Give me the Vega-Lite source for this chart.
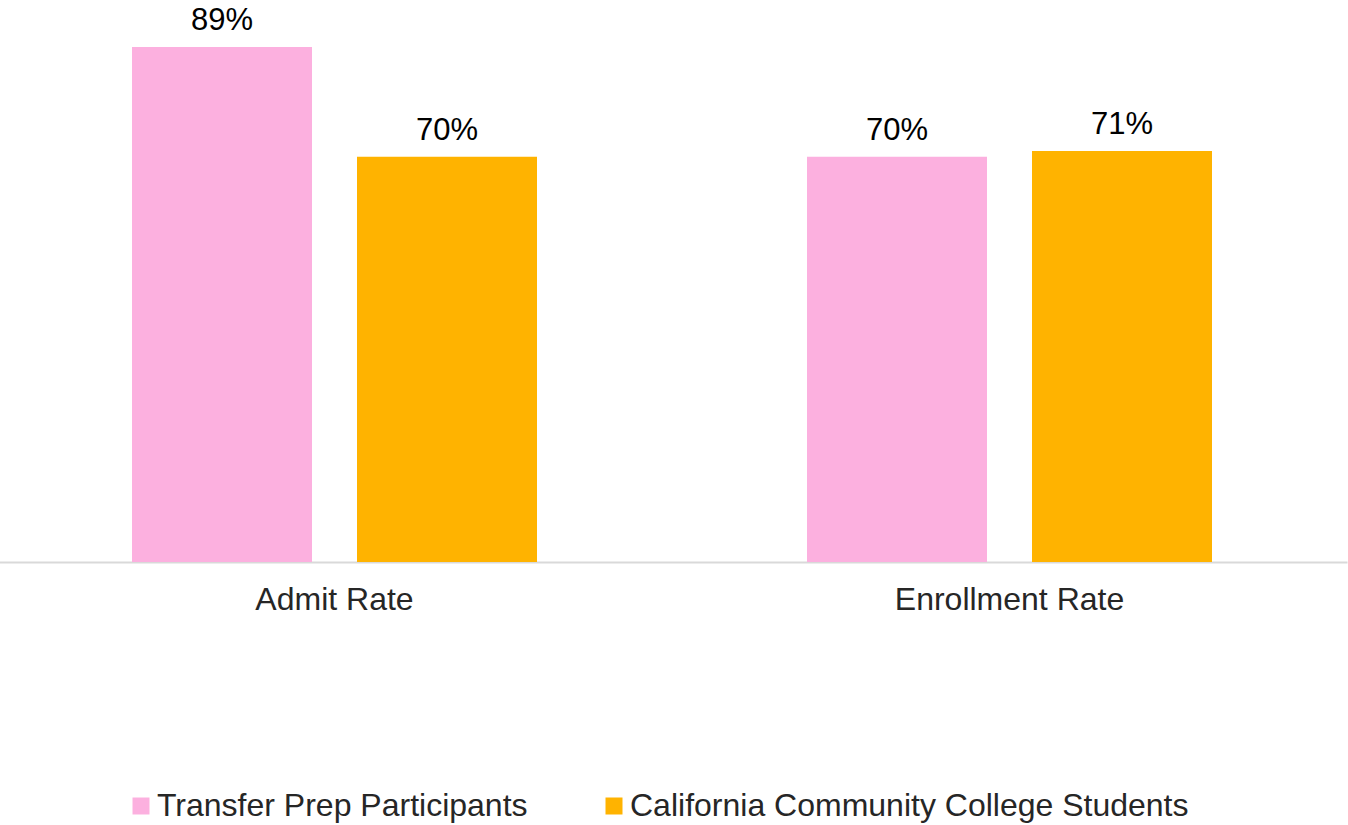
{
  "$schema": "https://vega.github.io/schema/vega-lite/v6.json",
  "width": 1348,
  "height": 562,
  "autosize": {"type": "none"},
  "padding": {"top": 0, "left": 0, "right": 0, "bottom": 263},
  "background": "white",
  "config": {"view": {"stroke": null}, "font": "Liberation Sans"},
  "data": {
    "values": [
      {"metric": "Admit Rate", "group": "Transfer Prep Participants", "value": 0.89, "label": "89%"},
      {"metric": "Admit Rate", "group": "California Community College Students", "value": 0.70, "label": "70%"},
      {"metric": "Enrollment Rate", "group": "Transfer Prep Participants", "value": 0.70, "label": "70%"},
      {"metric": "Enrollment Rate", "group": "California Community College Students", "value": 0.71, "label": "71%"}
    ]
  },
  "encoding": {
    "x": {
      "field": "metric", "type": "nominal", "sort": ["Admit Rate", "Enrollment Rate"],
      "scale": {"paddingInner": 0, "paddingOuter": 0, "range": [-3, 1347]},
      "axis": {"title": null, "labelAngle": 0, "labelFontSize": 32, "labelColor": "#262626", "labelFont": "Liberation Sans", "ticks": false, "domainColor": "#d9d9d9", "domainWidth": 2, "labelPadding": 22, "labelLimit": 1000, "grid": false}
    },
    "xOffset": {
      "field": "group", "type": "nominal", "sort": ["Transfer Prep Participants", "California Community College Students"],
      "scale": {"paddingInner": 0.2, "paddingOuter": 0.6}
    },
    "y": {
      "field": "value", "type": "quantitative",
      "scale": {"domain": [0, 0.971], "nice": false, "zero": true},
      "axis": null
    }
  },
  "layer": [
    {
      "mark": {"type": "bar"},
      "encoding": {
        "color": {
          "field": "group", "type": "nominal",
          "sort": ["Transfer Prep Participants", "California Community College Students"],
          "scale": {"domain": ["Transfer Prep Participants", "California Community College Students"], "range": ["#FCB0DF", "#FFB300"]},
          "legend": {
            "title": null, "orient": "none", "direction": "horizontal",
            "legendX": 125, "legendY": 790,
            "symbolType": "square", "symbolSize": 289, "symbolStrokeWidth": 0,
            "labelFontSize": 32, "labelColor": "#262626", "labelFont": "Liberation Sans",
            "labelOffset": 0, "columnPadding": 70, "labelLimit": 1000
          }
        }
      }
    },
    {
      "mark": {"type": "text", "baseline": "alphabetic", "dy": -17, "fontSize": 31, "color": "#000000", "font": "Liberation Sans"},
      "encoding": {
        "text": {"field": "label"}
      }
    }
  ]
}
